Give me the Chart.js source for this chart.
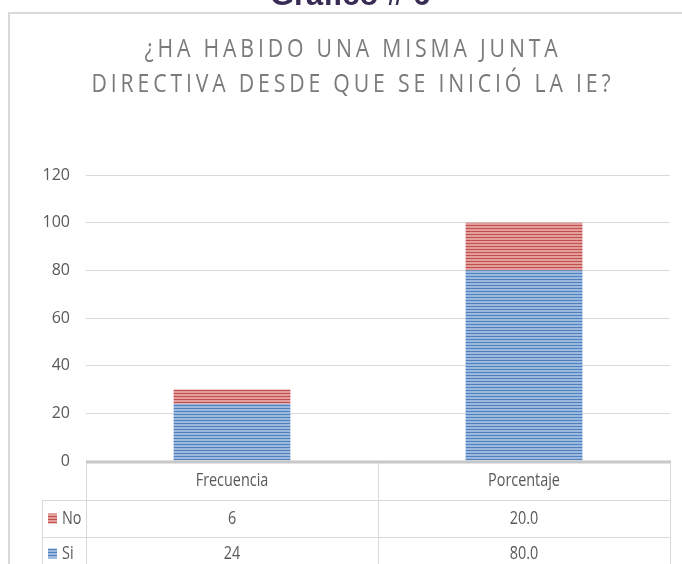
<!DOCTYPE html>
<html>
<head>
<meta charset="utf-8">
<script src="https://cdn.jsdelivr.net/npm/chart.js@4.4.1/dist/chart.umd.min.js"></script>
<style>
	html, body { margin: 0; padding: 0; background: #fff; }
	#wrap { width: 682px; height: 564px; position: relative; overflow: hidden; }
</style>
</head>
<body>
<div id="wrap"><canvas id="myChart" width="682" height="564"></canvas></div>
<script>
	// data
	const categories = ['Frecuencia', 'Porcentaje'];
	const siValues = [24, 80];
	const noValues = [6, 20];
	const columnDecimals = [0, 1]; // frecuencia as integer, porcentaje with one decimal
	const seriesNames = ['Si', 'No'];
	const yMax = 120;
	const yStep = 20;

	const heading = 'Gráfico # 6';
	const titleLines = ['¿HA HABIDO UNA MISMA JUNTA', 'DIRECTIVA DESDE QUE SE INICIÓ LA IE?'];

	const FONT = '"Open Sans", sans-serif';
	const TEXT = '#595959';
	const LINE = '#d9d9d9';

	// horizontal striped fill like the excel pattern
	function stripes(dark, light) {
		const c = document.createElement('canvas');
		c.width = 4; c.height = 3;
		const g = c.getContext('2d');
		g.fillStyle = light;
		g.fillRect(0, 0, 4, 3);
		g.fillStyle = dark;
		g.fillRect(0, 0, 4, 1);
		return g.createPattern(c, 'repeat');
	}
	const bluePattern = stripes('#4f81bd', '#9db8de');
	const redPattern = stripes('#c0504d', '#e39e9c');

	// the original uses a narrow font, so squeeze the text horizontally
	function narrowText(ctx, text, x, y, sx) {
		ctx.save();
		ctx.translate(x, y);
		ctx.scale(sx, 1);
		ctx.fillText(text, 0, 0);
		ctx.restore();
	}

	const extras = {
		id: 'extras',
		beforeDraw(chart) {
			const ctx = chart.ctx;
			ctx.save();
			ctx.fillStyle = '#fff';
			ctx.fillRect(0, 0, chart.width, chart.height);

			// outer frame of the excel chart
			ctx.strokeStyle = LINE;
			ctx.lineWidth = 2;
			ctx.beginPath();
			ctx.moveTo(9, chart.height + 5);
			ctx.lineTo(9, 13);
			ctx.lineTo(chart.width + 5, 13);
			ctx.stroke();

			// heading above the frame (cut off at the top)
			ctx.fillStyle = '#382c55';
			ctx.font = 'bold 31px "Liberation Sans", Arial, sans-serif';
			ctx.textAlign = 'center';
			ctx.textBaseline = 'alphabetic';
			ctx.fillText(heading, 350, 5);

			// chart title, narrow and spaced out
			ctx.fillStyle = '#7a7a7a';
			ctx.font = '25px ' + FONT;
			ctx.letterSpacing = '4.5px';
			narrowText(ctx, titleLines[0], 353, 57, 0.85);
			narrowText(ctx, titleLines[1], 353, 92, 0.85);
			ctx.letterSpacing = '0px';
			ctx.restore();
		},
		afterDraw(chart) {
			const ctx = chart.ctx;
			const area = chart.chartArea;
			const xs = chart.scales.x;
			const top = area.bottom;
			const rows = [top, top + 39, top + 76, top + 113];
			const mid = (xs.getPixelForValue(0) + xs.getPixelForValue(1)) / 2;
			const legendLeft = 42;

			ctx.save();
			ctx.strokeStyle = LINE;
			ctx.lineWidth = 1;
			ctx.beginPath();
			[area.left, mid, area.right].forEach(x => {
				ctx.moveTo(Math.round(x) + 0.5, top);
				ctx.lineTo(Math.round(x) + 0.5, chart.height);
			});
			ctx.moveTo(legendLeft + 0.5, rows[1]);
			ctx.lineTo(legendLeft + 0.5, chart.height);
			[rows[1], rows[2]].forEach(y => {
				ctx.moveTo(legendLeft, y + 0.5);
				ctx.lineTo(area.right, y + 0.5);
			});
			ctx.stroke();

			// category axis line
			ctx.strokeStyle = '#c8c8c8';
			ctx.lineWidth = 3;
			ctx.beginPath();
			ctx.moveTo(area.left, top + 1);
			ctx.lineTo(area.right + 1, top + 1);
			ctx.stroke();

			ctx.font = '18px ' + FONT;
			ctx.fillStyle = TEXT;
			ctx.textBaseline = 'middle';
			ctx.textAlign = 'center';
			categories.forEach((c, i) => {
				const x = xs.getPixelForValue(i);
				narrowText(ctx, c, x, (rows[0] + rows[1]) / 2, 0.8);
				narrowText(ctx, noValues[i].toFixed(columnDecimals[i]), x, (rows[1] + rows[2]) / 2, 0.8);
				narrowText(ctx, siValues[i].toFixed(columnDecimals[i]), x, (rows[2] + rows[3]) / 2 - 2, 0.8);
			});

			// legend keys in the table
			const keys = [[seriesNames[1], redPattern, (rows[1] + rows[2]) / 2], [seriesNames[0], bluePattern, (rows[2] + rows[3]) / 2 - 2]];
			ctx.textAlign = 'left';
			keys.forEach(([name, pat, y]) => {
				ctx.fillStyle = pat;
				ctx.fillRect(48, y - 5, 9, 10);
				ctx.fillStyle = TEXT;
				narrowText(ctx, name, 62, y, 0.8);
			});
			ctx.restore();
		}
	};

	window.onload = () => {
		const ctx = document.getElementById('myChart').getContext('2d');
		new Chart(ctx, {
			type: 'bar',
			data: {
				labels: categories,
				datasets: [{
					label: seriesNames[0],
					data: siValues,
					backgroundColor: bluePattern,
					borderWidth: 0
				}, {
					label: seriesNames[1],
					data: noValues,
					backgroundColor: redPattern,
					borderWidth: 0
				}]
			},
			options: {
				responsive: false,
				devicePixelRatio: 1,
				animation: false,
				datasets: {
					bar: { barPercentage: 0.4, categoryPercentage: 1.0 }
				},
				layout: {
					padding: { left: 0, right: 12, top: 175, bottom: 103 }
				},
				scales: {
					x: {
						stacked: true,
						display: false
					},
					y: {
						stacked: true,
						min: 0,
						max: yMax,
						afterFit(scale) { scale.width = 86; },
						ticks: {
							stepSize: yStep,
							padding: 16,
							color: TEXT,
							font: { family: FONT, size: 16 }
						},
						grid: { color: LINE, drawTicks: false },
						border: { display: false }
					}
				},
				plugins: {
					legend: { display: false },
					tooltip: { enabled: false }
				}
			},
			plugins: [extras]
		});
	};
</script>
</body>
</html>
